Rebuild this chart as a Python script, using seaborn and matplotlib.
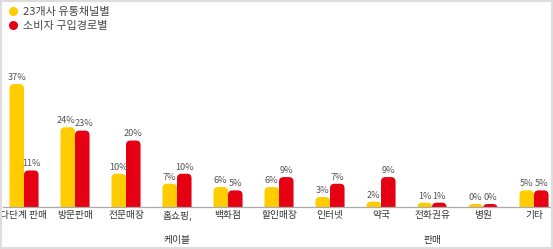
import matplotlib
matplotlib.use("Agg")
import matplotlib.pyplot as plt
from matplotlib.patches import FancyBboxPatch, Rectangle
from matplotlib.lines import Line2D
import seaborn as sns
import pandas as pd

categories = ["다단계 판매", "방문판매", "전문매장", "홈쇼핑,\n케이블", "백화점", "할인매장",
              "인터넷", "약국", "전화권유\n판매", "병원", "기타"]
series_names = ["23개사 유통채널별", "소비자 구입경로별"]
channel_values = [37, 24, 10, 7, 6, 6, 3, 1.6, 1.3, 0.9, 5]
consumer_values = [11, 23, 20, 10, 5, 9, 7, 9, 1.3, 0.9, 5]
channel_labels = ["37%", "24%", "10%", "7%", "6%", "6%", "3%", "2%", "1%", "0%", "5%"]
consumer_labels = ["11%", "23%", "20%", "10%", "5%", "9%", "7%", "9%", "1%", "0%", "5%"]
colors = ["#FFCC00", "#E50012"]

sns.set_theme(style="white")
plt.rcParams['font.family'] = ['Noto Sans CJK KR', 'DejaVu Sans']

df = pd.DataFrame({
    "category": categories * 2,
    "series": [series_names[0]] * len(categories) + [series_names[1]] * len(categories),
    "value": channel_values + consumer_values,
})

W, H = 553, 249
fig = plt.figure(figsize=(W / 100, H / 100), dpi=100)
fig.patch.set_facecolor("white")
ax = fig.add_axes([3 / W, 42 / H, 548 / W, 207 / H])

sns.barplot(data=df, x="category", y="value", hue="series", palette=colors,
            width=0.57, gap=0, dodge=True, ax=ax, legend=False, saturation=1)

ax.set_xlim(-0.412, 10.333)
ax.set_ylim(0, 62.3)

# replace rectangles with rounded-top bars
fig.canvas.draw()
tr = ax.transData
p0 = tr.transform((0, 0))
p1 = tr.transform((1, 1))
px_per_x = p1[0] - p0[0]
px_per_y = abs(p1[1] - p0[1])
rad_px = 4.5
r_x = rad_px / px_per_x
aspect = (rad_px / px_per_y) / r_x

n = len(categories)
bars = [p for p in ax.patches if isinstance(p, Rectangle)]
all_labels = channel_labels + consumer_labels
for i, b in enumerate(bars):
    x, w, h = b.get_x(), b.get_width(), b.get_height()
    fc = b.get_facecolor()
    b.set_visible(False)
    fb = FancyBboxPatch((x, -6), w, h + 6,
                        boxstyle=f"round,pad=0,rounding_size={r_x}",
                        mutation_aspect=aspect, facecolor=fc, edgecolor="none",
                        linewidth=0)
    ax.add_patch(fb)
    # nudge apart two wide labels that sit at nearly the same height
    k = i % n
    dx = 0
    if (len(channel_labels[k]) == 3 and len(consumer_labels[k]) == 3
            and abs(channel_values[k] - consumer_values[k]) < 3):
        dx = -1.2 if i < n else 1.2
    ax.annotate(all_labels[i], (x + w / 2, h), xytext=(dx, 1.5),
                textcoords="offset points", ha="center", va="bottom",
                fontsize=6.6, color="#555555")

for s in ["top", "right", "left"]:
    ax.spines[s].set_visible(False)
ax.spines["bottom"].set_color("#aaaaaa")
ax.spines["bottom"].set_linewidth(0.9)
ax.set_yticks([])
ax.set_xlabel("")
ax.set_ylabel("")
ax.tick_params(axis="x", length=0, pad=2.5, labelsize=7, labelcolor="#333333")
for t in ax.get_xticklabels():
    t.set_linespacing(2.8)
    t.set_va("top")

handles = [Line2D([0], [0], marker="o", linestyle="none", markersize=6.5,
                  markerfacecolor=c, markeredgecolor="none") for c in colors]
leg = fig.legend(handles, series_names, loc="upper left", bbox_to_anchor=(0.002, 1.0),
                 frameon=False, fontsize=8, handletextpad=0.35, labelspacing=0.35,
                 handlelength=1.0, borderaxespad=0.2)
for t in leg.get_texts():
    t.set_color("#444444")

# light grey frame around the image
fig.add_artist(Rectangle((0, 0), 1, 1, transform=fig.transFigure, fill=False,
                         edgecolor="#dddddd", linewidth=3, clip_on=False))

fig.savefig("out.png", dpi=100, facecolor="white")
